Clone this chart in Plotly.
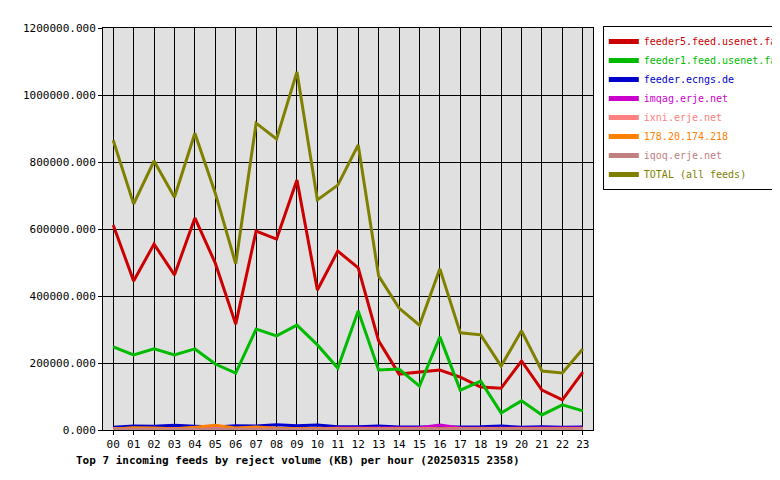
import plotly.graph_objects as go

hours = [f"{h:02d}" for h in range(24)]
feeder5 = [612,445,555,463,633,498,316,594,570,746,418,534,484,266,167,173,179,158,128,125,206,119,90,173]
feeder1 = [248,224,242,224,242,197,170,301,281,313,254,185,355,179,182,131,278,119,146,51,87,45,75,57]
ecngs = [8,12,11,14,11,9,13,12,16,13,15,10,10,12,9,9,10,8,10,12,8,10,8,9]
imqag = [3,3,3,3,4,4,4,4,4,4,4,6,6,6,7,7,15,6,5,5,5,5,5,6]
ixni = [4,4,4,4,4,4,4,4,4,4,4,4,4,4,4,4,4,4,4,4,4,4,4,4]
ip = [3,7,6,4,8,14,6,9,5,4,4,3,3,3,3,3,3,3,3,3,3,3,3,3]
iqoq = [2,2,2,2,2,2,2,2,2,2,2,2,2,2,2,2,2,2,2,2,2,2,2,2]
total = [865,675,803,695,886,707,496,916,869,1069,687,731,851,460,364,313,481,290,284,191,296,176,170,242]

series = [
    ("feeder5.feed.usenet.farm", feeder5, "#cc0000"),
    ("feeder1.feed.usenet.farm", feeder1, "#00bb00"),
    ("feeder.ecngs.de", ecngs, "#0000cc"),
    ("imqag.erje.net", imqag, "#cc00cc"),
    ("ixni.erje.net", ixni, "#ff8080"),
    ("178.20.174.218", ip, "#ff8000"),
    ("iqoq.erje.net", iqoq, "#c08080"),
    ("TOTAL (all feeds)", total, "#808000"),
]

fig = go.Figure()
for name, vals, col in series:
    fig.add_trace(go.Scatter(x=hours, y=[v*1000 for v in vals],
                             name=f'<span style="color:{col}">{name}</span>', mode="lines",
                             line=dict(color=col, width=3)))
fig.update_layout(
    width=780, height=480,
    margin=dict(l=95, r=195, t=20, b=58, autoexpand=False),
    paper_bgcolor="white", plot_bgcolor="#e0e0e0",
    font=dict(family="DejaVu Sans Mono", size=11, color="black"),
    showlegend=True,
    legend=dict(x=1.02, y=1.005, xanchor="left", yanchor="top", bordercolor="black", borderwidth=1,
                bgcolor="white", font=dict(size=10), tracegroupgap=0, itemwidth=30,
                itemsizing="constant"),
    xaxis=dict(type="category", range=[-0.5, 23.5], showgrid=True, gridcolor="black", gridwidth=1,
               showline=True, linecolor="black", mirror=True, ticks="outside", ticklen=4,
               tickcolor="black", automargin=False),
    yaxis=dict(range=[0, 1200000], dtick=200000, tickformat=".3f", showgrid=True, gridcolor="black",
               gridwidth=1, showline=True, linecolor="black", mirror=True, zeroline=False,
               ticks="outside", ticklen=4, tickcolor="black", automargin=False),
    annotations=[dict(text="<b>Top 7 incoming feeds by reject volume (KB) per hour (20250315 2358)</b>",
                      xref="paper", yref="paper", x=-0.06, y=-0.055, xanchor="left", yanchor="top",
                      showarrow=False, font=dict(size=11))],
)
fig.write_html("out.html")
